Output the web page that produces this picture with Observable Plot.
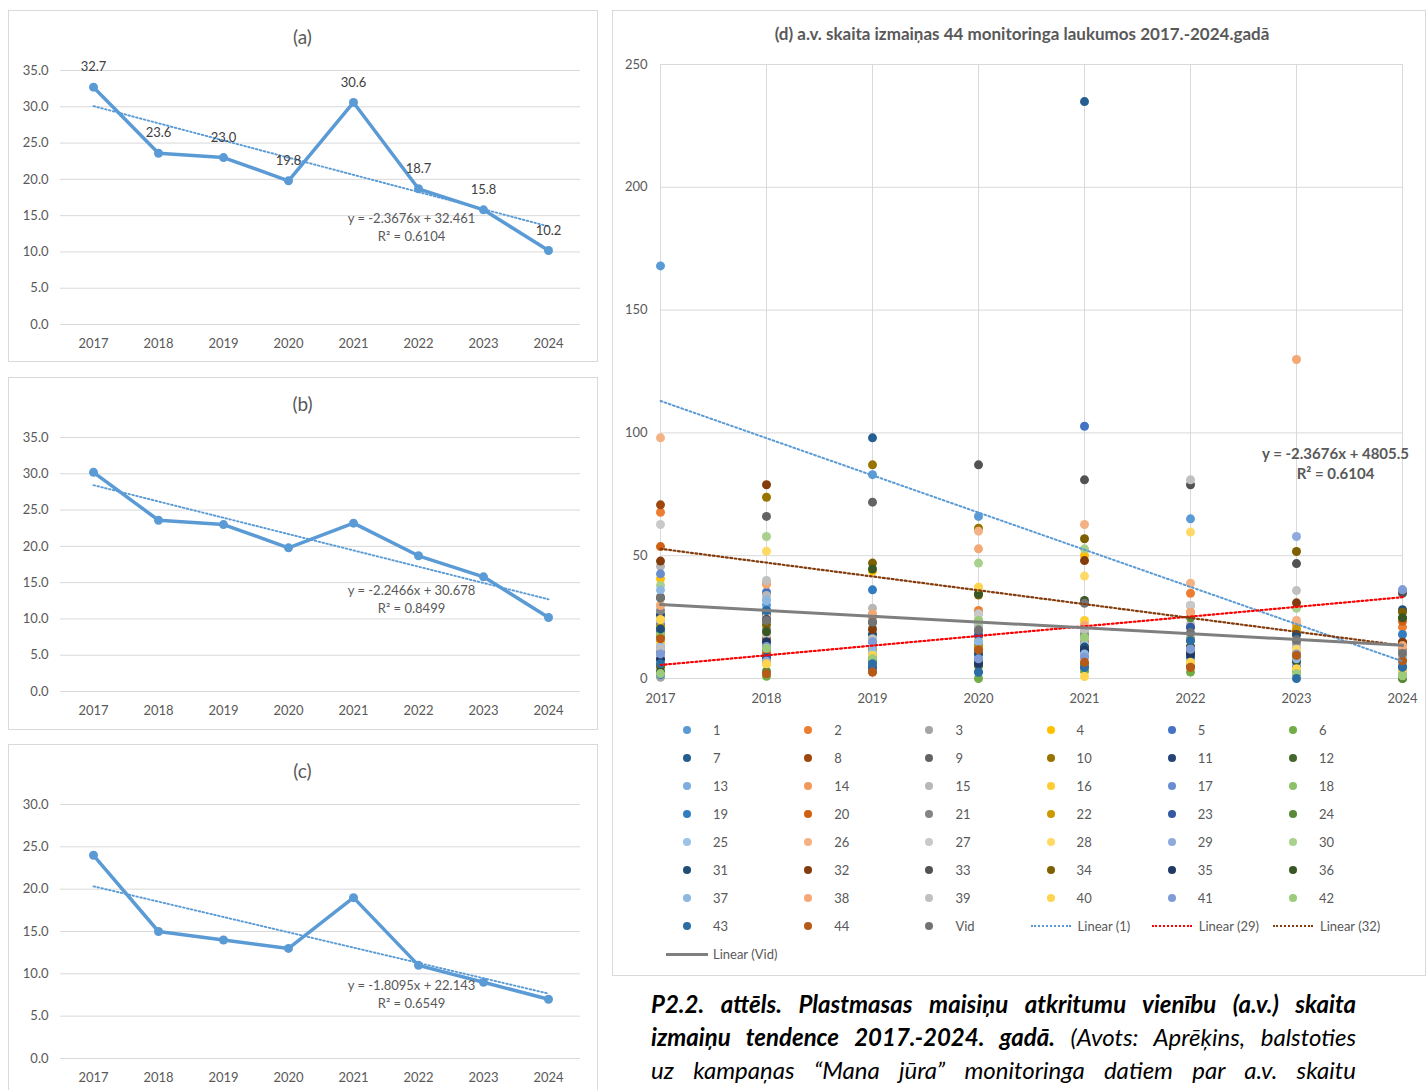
<!DOCTYPE html>
<html><head><meta charset="utf-8">
<script src="https://cdn.jsdelivr.net/npm/d3@7"></script>
<script src="https://cdn.jsdelivr.net/npm/@observablehq/plot@0.6"></script>
<style>
body{margin:0;background:#fff;font-family:Lato,"Open Sans",sans-serif;}
#root{position:relative;width:1426px;height:1090px;overflow:hidden;background:#fff;}
.box{position:absolute;border:1px solid #d9d9d9;box-sizing:border-box;}
.abs{position:absolute;}
.ptitle{position:absolute;text-align:center;color:#595959;font-size:19px;line-height:22px;}
.lg{position:absolute;font-size:13px;color:#595959;line-height:16px;white-space:nowrap;}
.cap{position:absolute;left:651px;width:705px;height:33px;line-height:33px;font-size:24px;font-style:italic;color:#000;text-align:justify;text-align-last:justify;white-space:normal;}
svg{max-width:none !important;}
</style></head>
<body><div id="root"></div>
<script>
// ---------- data ----------
const years = ["2017","2018","2019","2020","2021","2022","2023","2024"];
const yearNums = [2017,2018,2019,2020,2021,2022,2023,2024];

const valuesA = [32.7,23.6,23.0,19.8,30.6,18.7,15.8,10.2];
const valuesB = [30.2,23.6,23.0,19.8,23.2,18.7,15.8,10.2];
const valuesC = [24.0,15.0,14.0,13.0,19.0,11.0,9.0,7.0];
const trendA = [-2.3676, 32.461];
const trendB = [-2.2466, 30.678];
const trendC = [-1.8095, 22.143];
const eqA = ["y = -2.3676x + 32.461", "R² = 0.6104"];
const eqB = ["y = -2.2466x + 30.678", "R² = 0.8499"];
const eqC = ["y = -1.8095x + 22.143", "R² = 0.6549"];

// (d) site values, 2017..2024
const s1  = [168, 30, 83, 66, 20, 65, 12, 5];
const s2  = [67.7, 17.9, 25, 27.7, 15, 34.7, 9, 20.9];
const s3  = [0.5, 12, 16.2, 26.3, 20.2, 29.7, 14, 9];
const s4  = [40.6, 6, 43.7, 15.5, 50.1, 6.6, 19.5, 3];
const s5  = [22, 35.1, 6, 17.5, 102.7, 15.5, 5.7, 2.6];
const s6  = [25.6, 0.9, 3, 0, 3, 2.6, 1.9, 0];
const s7  = [19, 26.3, 98, 13.4, 234.9, 20.9, 17.9, 4.6];
const s8  = [70.7, 16, 12, 6, 13, 12.8, 10, 14.8];
const s9  = [11, 66, 71.8, 19.5, 14, 10, 8, 6];
const s10 = [17, 73.8, 87, 61.2, 10, 11.1, 7, 5];
const s11 = [26, 12, 5, 9, 12.8, 7, 6, 3];
const s12 = [12.8, 10, 8, 7, 10, 5, 7.3, 24.7];
const s13 = [23.6, 14.8, 10.7, 8, 10, 9, 3, 2];
const s14 = [15, 38.5, 14.8, 10, 21.6, 27, 22, 12];
const s15 = [45.7, 33.8, 28.6, 26.3, 20.2, 22, 14, 8];
const s16 = [14.1, 6, 9.4, 15.5, 23.6, 6.6, 11.7, 4];
const s17 = [42.6, 13.4, 15, 9.4, 10, 8, 9, 7];
const s18 = [18.2, 12.3, 8, 23.6, 16.8, 16.6, 1.9, 1.2];
const s19 = [1.6, 27.7, 36.1, 2.6, 4.6, 15.5, 5.7, 17.9];
const s20 = [53.7, 10, 2.6, 11.7, 13, 4.6, 8, 23.3];
const s21 = [27.7, 20.2, 22.9, 21.6, 18, 16, 15, 11];
const s22 = [21, 8, 12, 13, 9, 11, 20.2, 7];
const s23 = [7.6, 8.7, 4.4, 17.5, 11.4, 20.9, 5.7, 2.6];
const s24 = [4.9, 3, 7, 5, 6, 24.7, 4, 0];
const s25 = [13, 31.8, 10.7, 9, 14, 8, 6, 4];
const s26 = [98, 25, 26.3, 60, 62.7, 38.8, 23.6, 13.4];
const s27 = [62.7, 18, 16.2, 26.3, 20.2, 29.7, 12, 10];
const s28 = [30, 51.8, 9.4, 37.2, 41.7, 59.6, 11.7, 6];
const s29 = [9.8, 7, 6, 8, 8.7, 8.7, 57.8, 36.1];
const s30 = [37.9, 57.8, 20.6, 47, 52.8, 16.6, 28.6, 1.2];
const s31 = [20.2, 24, 18, 10, 12.8, 9, 17.9, 28];
const s32 = [47.8, 78.9, 20, 6, 48, 12.8, 30.8, 14.8];
const s33 = [33, 23.6, 22.9, 87, 80.9, 78.9, 46.8, 34.7];
const s34 = [5, 22, 47, 34, 56.9, 11.1, 51.7, 27];
const s35 = [8, 15, 9, 6, 11.4, 10, 7, 5];
const s36 = [3, 19, 44.6, 34.5, 31.8, 13, 7.3, 24.7];
const s37 = [36, 32, 13, 15, 10, 12, 8, 6];
const s38 = [29.7, 38.5, 26.3, 52.8, 21.6, 27, 129.9, 13.4];
const s39 = [12, 39.9, 16.2, 22, 20, 80.9, 35.8, 10];
const s40 = [24, 6, 9.4, 37.2, 0.8, 6.6, 4, 3];
const s41 = [10, 13, 15, 8, 8.7, 12, 10, 36.1];
const s42 = [2, 12.3, 8, 23.6, 16.8, 16, 1.9, 1.2];
const s43 = [6, 27.7, 6, 2.6, 4.6, 15.5, 0, 4.6];
const s44 = [16.2, 1.9, 2.6, 11.7, 6.6, 4.6, 9.4, 7.2];
const vid = valuesA;

const siteNames = [...Array.from({length:44},(_, i)=>String(i+1)), "Vid"];
const siteColors = ["#5B9BD5","#ED7D31","#A5A5A5","#FFC000","#4472C4","#70AD47",
"#255E91","#9E480E","#636363","#997300","#264478","#43682B",
"#7CAFDD","#F1975A","#B7B7B7","#FFCD33","#698ED0","#8CC168",
"#327DC2","#D26012","#848484","#CC9A00","#335AA1","#5A8A39",
"#9DC3E6","#F4B183","#C9C9C9","#FFD966","#8FAADC","#A9D18E",
"#1F4E79","#843C0C","#525252","#7F6000","#203864","#385723",
"#8CB8E2","#F3A875","#C0C0C0","#FFD44F","#7F9CD6","#9BCB7B",
"#2C6DA4","#B65A18","#737373"];

// trend lines in (d): value at 2017 and at 2024
const trendNames = ["Linear (1)","Linear (29)","Linear (32)","Linear (Vid)"];
const trendStart = [113, 5.5, 52.8, 30.09];
const trendEnd   = [7, 33.1, 13.4, 13.52];
const trendColors = ["#5B9BD5","#FF0000","#843C0C","#7F7F7F"];
const eqD = ["y = -2.3676x + 4805.5", "R² = 0.6104"];

const titleD = "(d) a.v. skaita izmaiņas 44 monitoringa laukumos 2017.-2024.gadā";

// ---------- layout helpers ----------
const root = document.getElementById("root");
function el(cls, css, html){const d=document.createElement("div");d.className=cls;Object.assign(d.style,css);if(html!==undefined)d.innerHTML=html;root.appendChild(d);return d;}
function place(node,left,top){const w=el("abs",{left:left+"px",top:top+"px"});w.appendChild(node);}

// ---------- small panels ----------
function smallPanel(vals, trend, yMax, labels, eq, eqDy){
  const data = years.map((y,i)=>({year:y, v:vals[i]}));
  const tr = [{year:years[0], v:trend[0]*1+trend[1]},{year:years[7], v:trend[0]*8+trend[1]}];
  const ticks = d3.range(0, yMax+0.001, 5);
  const marks = [
    Plot.ruleY(ticks,{stroke:"#d9d9d9",strokeWidth:1}),
    Plot.axisY(ticks,{tickSize:0,tickPadding:12,tickFormat:d=>d.toFixed(1),label:null,fontSize:13}),
    Plot.axisX({tickSize:0,tickPadding:14,label:null,fontSize:13}),
    Plot.line(tr,{x:"year",y:"v",stroke:"#5B9BD5",strokeWidth:1.9,strokeDasharray:"1.6,2.4"}),
    Plot.line(data,{x:"year",y:"v",stroke:"#5B9BD5",strokeWidth:3.5}),
    Plot.dot(data,{x:"year",y:"v",r:4.5,fill:"#5B9BD5"}),
    Plot.text([eq[0]],{text:d=>d,frameAnchor:"top-left",dx:351,dy:eqDy,fill:"#595959",fontSize:13,textAnchor:"middle"}),
    Plot.text([eq[1]],{text:d=>d,frameAnchor:"top-left",dx:351,dy:eqDy+18,fill:"#595959",fontSize:13,textAnchor:"middle"})
  ];
  if(labels) marks.push(Plot.text(data,{x:"year",y:"v",text:d=>d.v.toFixed(1),dy:-20,fill:"#404040",fontSize:13}));
  return Plot.plot({
    width:589,height:352,marginTop:60,marginBottom:38,marginLeft:52,marginRight:17,
    style:{fontFamily:"Lato",fontSize:"13px",color:"#595959",background:"transparent",overflow:"visible"},
    x:{type:"point",domain:years,padding:0.5},
    y:{domain:[0,yMax]},
    marks
  });
}
const panels = [
  {T:10, h:352, name:"(a)", vals:valuesA, trend:trendA, yMax:35, labels:true, eq:eqA, eqDy:143},
  {T:377,h:353, name:"(b)", vals:valuesB, trend:trendB, yMax:35, labels:false, eq:eqB, eqDy:148},
  {T:744,h:360, name:"(c)", vals:valuesC, trend:trendC, yMax:30, labels:false, eq:eqC, eqDy:176}
];
for(const p of panels){
  el("box",{left:"8px",top:p.T+"px",width:"590px",height:p.h+"px"});
  place(smallPanel(p.vals,p.trend,p.yMax,p.labels,p.eq,p.eqDy),8,p.T);
  el("ptitle",{left:"8px",width:"589px",top:(p.T+16)+"px"},p.name);
}

// ---------- panel (d) ----------
el("box",{left:"612px",top:"10px",width:"814px",height:"966px"});
const sites=[s1,s2,s3,s4,s5,s6,s7,s8,s9,s10,s11,s12,s13,s14,s15,s16,s17,s18,s19,s20,s21,s22,s23,s24,s25,s26,s27,s28,s29,s30,s31,s32,s33,s34,s35,s36,s37,s38,s39,s40,s41,s42,s43,s44,vid];
const points=[];
sites.forEach((arr,i)=>arr.forEach((v,j)=>points.push({year:yearNums[j],v,color:siteColors[i]})));
const trendLines = trendNames.map((n,i)=>[{year:yearNums[0],v:trendStart[i],k:i},{year:yearNums[7],v:trendEnd[i],k:i}]);
const yT = d3.range(0,251,50);
const plotD = Plot.plot({
  width:813,height:700,marginTop:54,marginBottom:32,marginLeft:48,marginRight:23,
  style:{fontFamily:"Lato",fontSize:"13px",color:"#595959",background:"transparent",overflow:"visible"},
  x:{domain:[2017,2024]}, y:{domain:[0,250]},
  marks:[
    Plot.ruleY(yT,{stroke:"#d9d9d9"}),
    Plot.ruleX(yearNums,{stroke:"#d9d9d9"}),
    Plot.axisY(yT,{tickSize:0,tickPadding:13,label:null,fontSize:13}),
    Plot.axisX(yearNums,{tickSize:0,tickPadding:15,tickFormat:d=>String(d),label:null,fontSize:13}),
    Plot.dot(points,{x:"year",y:"v",r:4.5,fill:"color"}),
    Plot.line(trendLines[0],{x:"year",y:"v",stroke:trendColors[0],strokeWidth:2,strokeDasharray:"1.8,2.6"}),
    Plot.line(trendLines[1],{x:"year",y:"v",stroke:trendColors[1],strokeWidth:2.2,strokeDasharray:"1.8,2.6"}),
    Plot.line(trendLines[2],{x:"year",y:"v",stroke:trendColors[2],strokeWidth:2.2,strokeDasharray:"1.8,2.6"}),
    Plot.line(trendLines[3],{x:"year",y:"v",stroke:trendColors[3],strokeWidth:3}),
    Plot.text([eqD[0]],{text:d=>d,frameAnchor:"top-left",dx:675,dy:384,fill:"#595959",fontSize:15,fontWeight:"bold",textAnchor:"middle"}),
    Plot.text([eqD[1]],{text:d=>d,frameAnchor:"top-left",dx:675,dy:404,fill:"#595959",fontSize:15,fontWeight:"bold",textAnchor:"middle"})
  ]
});
place(plotD,612,10);
el("ptitle",{left:"612px",width:"820px",top:"23px",fontSize:"17px",fontWeight:"bold"},titleD);

// legend
const colX = c => 687 + c*121.2;
const rowY = r => 730 + r*28;
siteNames.forEach((n,i)=>{
  const r=Math.floor(i/6), c=i%6;
  el("abs",{left:(colX(c)-4)+"px",top:(rowY(r)-4)+"px",width:"8px",height:"8px",borderRadius:"50%",background:siteColors[i]});
  el("lg",{left:(colX(c)+26)+"px",top:(rowY(r)-8)+"px"},n);
});
trendNames.forEach((n,i)=>{
  const idx=45+i, r=Math.floor(idx/6), c=idx%6;
  const cx=colX(c), cy=rowY(r);
  if(i<3) el("abs",{left:(cx-20)+"px",top:(cy-1)+"px",width:"40px",height:"0px",borderTop:"2px dotted "+trendColors[i]});
  else el("abs",{left:(cx-21)+"px",top:(cy-1.5)+"px",width:"42px",height:"3px",background:trendColors[i]});
  el("lg",{left:(cx+(i<3?27:26))+"px",top:(cy-8)+"px"},n);
});

// caption
el("cap",{top:"987px"},"<b>P2.2. attēls. Plastmasas maisiņu atkritumu vienību (a.v.) skaita</b>");
el("cap",{top:"1020px"},"<b>izmaiņu tendence 2017.-2024. gadā.</b> (Avots: Aprēķins, balstoties");
el("cap",{top:"1053px"},"uz kampaņas “Mana jūra” monitoringa datiem par a.v. skaitu");
</script>
</body></html>
